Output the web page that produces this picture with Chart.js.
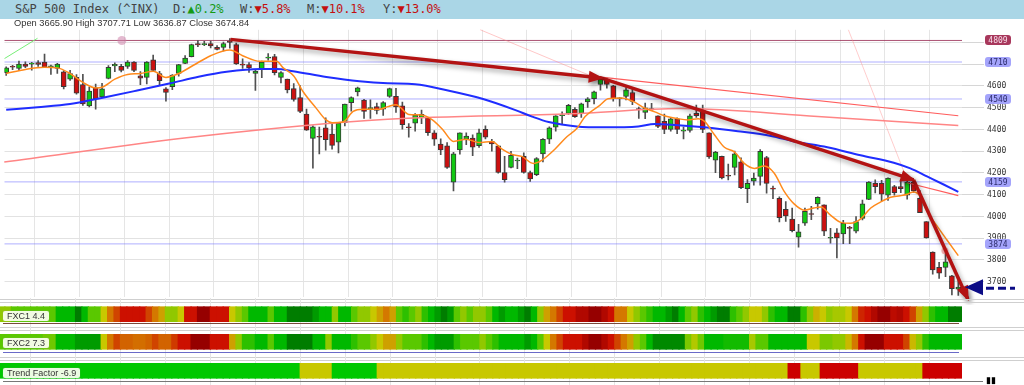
<!DOCTYPE html>
<html><head><meta charset="utf-8">
<script src="https://cdn.jsdelivr.net/npm/chart.js@4.4.1/dist/chart.umd.min.js"></script>
<style>
html,body{margin:0;padding:0;background:#fff;width:1024px;height:385px;overflow:hidden;position:relative;font-family:"Liberation Sans",Arial,sans-serif}
#hdr{position:absolute;left:0;top:0;width:1024px;height:19px;background:#aad6e6}
.h{position:absolute;top:2px;line-height:14px;font-size:12px;font-family:"DejaVu Sans Mono",monospace;color:#444;white-space:pre}
.up{color:#159a15;font-weight:normal}.dn{color:#c41010;font-weight:normal}
#ohlc{position:absolute;left:14px;top:18px;font-size:9.3px;line-height:11px;color:#333;white-space:pre}
canvas{position:absolute;left:0}
.sep{position:absolute;left:0;width:1024px;height:1px;background:#cfcfcf}
.osc{position:absolute;left:3px;height:1px}
.lbl{position:absolute;left:3px;height:10px;line-height:10px;font-size:9px;color:#333;background:rgba(255,255,245,0.92);border-radius:2px;box-shadow:0 0 1px #999;padding:0 4px;white-space:pre}
</style></head>
<body>
<div id="hdr">
<span class="h" style="left:15px">S&amp;P 500 Index (^INX)</span>
<span class="h" style="left:173px">D:<b class="up">▲0.2%</b></span>
<span class="h" style="left:240px">W:<b class="dn">▼5.8%</b></span>
<span class="h" style="left:307px">M:<b class="dn">▼10.1%</b></span>
<span class="h" style="left:383px">Y:<b class="dn">▼13.0%</b></span>
</div>
<canvas id="pc" width="1024" height="283" style="top:22px"></canvas>
<div class="sep" style="top:299px"></div><div class="sep" style="top:302px"></div>
<div class="sep" style="top:327px"></div><div class="sep" style="top:330px"></div>
<div class="sep" style="top:357px"></div><div class="sep" style="top:360px"></div>
<canvas id="b1" width="962" height="29" style="top:298px"></canvas>
<canvas id="b2" width="962" height="29" style="top:327px"></canvas>
<canvas id="b3" width="962" height="29" style="top:356px"></canvas>
<div class="osc" style="top:323px;width:956px;background:#7a4a3a"></div>
<div class="osc" style="top:352px;width:956px;background:#6a6ac8"></div>
<div class="osc" style="top:381px;width:980px;background:#777"></div>
<div class="lbl" style="top:311px">FXC1 4.4</div>
<div class="lbl" style="top:338px">FXC2 7.3</div>
<div class="lbl" style="top:368px">Trend Factor -6.9</div>
<div style="position:absolute;left:986px;top:375px;font-size:9px;line-height:10px;color:#000">▮▮</div>
<div id="ohlc">Open 3665.90 High 3707.71 Low 3636.87 Close 3674.84</div>
<script>
// ---- candle data (S&P 500, daily) ----
const open = [4661,4689,4681,4701,4700,4707,4710,4688,4680,4665, 4631,4639,4606,4508,4591,4550,4634,4692,4690,4690,
 4710,4646,4639,4720,4657,4587,4597,4657,4704,4735, 4795,4790,4795,4777,4777,4806,4790,4699,4698,4657,
 4679,4728,4735,4639,4631,4588,4547,4471,4359,4366, 4408,4379,4342,4431,4523,4572,4535,4496,4505,4493,
 4552,4552,4508,4412,4429,4454,4454,4385,4333,4325, 4158,4306,4355,4360,4325,4400,4345,4325,4202,4226,
 4255,4276,4202,4192,4288,4355,4410,4463,4474,4493, 4474,4526,4541,4607,4630,4600,4541,4552,4570,4495,
 4478,4496,4463,4437,4400,4449,4392,4395,4474,4489, 4385,4259,4276,4187,4226,4251,4128,4162,4184,4271,
 4128,4083,4033,3988,3905,3969,4013,4058,4054,3900, 3925,3920,3947,3932,3991,4078,4152,4152,4098,4137,
 4137,4098,4158,4083,3976,3836,3766,3766,3727,3666];
const high = [4688,4695,4714,4711,4708,4717,4746,4696,4704,4670, 4672,4652,4653,4595,4608,4612,4694,4706,4699,4716,
 4712,4666,4712,4742,4667,4592,4652,4699,4740,4792, 4808,4805,4806,4786,4801,4818,4797,4725,4707,4672,
 4714,4749,4745,4666,4632,4611,4602,4494,4417,4411, 4453,4429,4432,4517,4550,4595,4539,4536,4521,4528,
 4590,4589,4526,4427,4473,4489,4456,4395,4357,4340, 4295,4385,4385,4375,4402,4417,4355,4327,4277,4299,
 4268,4292,4209,4271,4358,4412,4464,4481,4516,4500, 4521,4546,4576,4637,4637,4603,4546,4593,4593,4503,
 4521,4520,4463,4471,4453,4453,4411,4471,4512,4512, 4385,4300,4278,4241,4301,4269,4170,4200,4308,4276,
 4140,4090,4068,4039,3964,4039,4047,4090,4054,3945, 3944,3982,3955,3999,4075,4160,4169,4166,4178,4143,
 4168,4165,4164,4119,3976,3838,3789,3837,3729,3708];
const low = [4648,4675,4670,4684,4672,4690,4684,4653,4657,4586, 4625,4562,4511,4504,4493,4546,4632,4666,4664,4680,
 4666,4606,4609,4665,4601,4530,4583,4645,4702,4733, 4780,4785,4775,4765,4761,4774,4699,4681,4662,4579,
 4638,4718,4651,4614,4568,4530,4477,4395,4222,4287, 4305,4309,4292,4416,4484,4554,4451,4451,4471,4464,
 4547,4478,4401,4364,4392,4426,4372,4327,4284,4221, 4118,4286,4330,4280,4317,4356,4300,4199,4158,4223,
 4220,4199,4161,4187,4251,4335,4392,4424,4469,4455, 4455,4501,4517,4581,4590,4530,4507,4536,4514,4451,
 4450,4486,4408,4381,4392,4381,4357,4388,4455,4385, 4267,4201,4173,4168,4191,4128,4063,4144,4144,4107,
 4082,3975,3977,3929,3859,3959,3985,4034,3912,3877, 3810,3875,3875,3925,3984,4077,4108,4073,4074,4098,
 4109,4080,4111,4017,3900,3735,3715,3723,3639,3637];
const close = [4683,4686,4701,4690,4702,4699,4686,4691,4701,4597, 4657,4567,4517,4576,4542,4587,4686,4699,4671,4710,
 4671,4636,4710,4671,4624,4570,4650,4698,4728,4790, 4788,4794,4784,4768,4795,4800,4701,4696,4683,4668,
 4710,4731,4661,4661,4582,4538,4483,4397,4412,4364, 4353,4327,4428,4517,4547,4591,4483,4499,4487,4523,
 4588,4503,4422,4408,4466,4469,4385,4355,4306,4226, 4288,4385,4370,4318,4385,4365,4333,4202,4169,4281,
 4259,4202,4173,4266,4355,4407,4463,4464,4511,4459, 4518,4541,4573,4632,4607,4541,4544,4582,4529,4491,
 4499,4490,4414,4400,4449,4400,4392,4463,4463,4400, 4274,4296,4177,4185,4288,4132,4152,4177,4300,4152,
 4126,3994,4003,3935,3929,4024,4009,4088,3932,3902, 3902,3969,3945,3976,4058,4158,4137,4103,4177,4110,
 4128,4158,4118,4018,3902,3754,3739,3791,3668,3675];

// ---- overlay lines: [candle index, value] ----
const maFast = [[0,4657],[3,4676],[6,4686],[8,4683],[10,4657],[12,4616],[14,4591],[15,4594],[17,4631],[19,4653],[21,4657],[23,4668],[25,4639],[27,4657],[29.3,4695],[32,4739],[35,4765],[37,4739],[39.7,4713],[42.3,4713],[43.4,4682],[45,4646],[46.5,4572],[48.5,4498],[50,4445],[51,4431],[52.7,4434],[54.3,4483],[55.8,4493],[58.4,4493],[59.7,4505],[61,4514],[63,4469],[65,4466],[66.7,4444],[68.3,4400],[70,4345],[72,4355],[74,4340],[76,4345],[77.6,4310],[79.2,4285],[80.7,4276],[82.5,4244],[83.8,4258],[85.9,4310],[87.7,4365],[89.3,4404],[90.6,4459],[92.9,4511],[94.2,4541],[96.3,4545],[98.1,4529],[99.9,4499],[101.5,4481],[103,4463],[105.2,4449],[106.7,4444],[108.3,4449],[109.3,4437],[110.8,4377],[112.4,4318],[114,4296],[115.5,4244],[117.1,4221],[118.6,4232],[120.2,4199],[121.7,4118],[123.3,4058],[124.9,4029],[126.4,4039],[127.5,4043],[129,4006],[130.6,3973],[132.1,3969],[133.7,3988],[135.3,4039],[136.8,4066],[138.4,4088],[139.9,4095],[141,4102],[142,4113],[143,4095],[144.1,4024],[145.6,3959],[147.2,3893],[149,3820]];
const maMid = [[0,4490],[4.9,4502],[10,4517],[15.3,4547],[20.5,4579],[25.7,4612],[30.1,4642],[34.5,4665],[39.7,4678],[42.3,4678],[44.9,4668],[50.1,4641],[55.3,4621],[59.7,4612],[64,4608],[69.3,4578],[74.5,4541],[79.7,4489],[82.3,4459],[84.9,4434],[89.3,4414],[93.7,4410],[98.9,4414],[101.5,4425],[104.1,4422],[109.3,4410],[114.5,4392],[119.7,4370],[123.3,4345],[128.5,4318],[133.7,4281],[138.9,4247],[141.5,4221],[144.1,4184],[146.7,4147],[149,4113]];
const maSlow = [[-0.3,4250],[30,4368],[59.7,4447],[88.5,4472],[105.6,4496],[127,4460],[149,4418]];
const levels = [4809, 4710, 4540, 4159, 3874];
const arrow1 = [[35.1,4814],[93.2,4636]];
const arrow2 = [[93.2,4636],[142,4168]];
const arrow3 = [[142,4168],[150.5,3620]];
const trendRed = [[91.6,4645],[149,4463]];
const trendRed2 = [[141,4155],[149,4096]];
const trendFaint1 = [[74.2,4858],[91.6,4645]];
const trendFaint2 = [[131.8,4858],[141,4168]];
const trendGreen = [[-0.26,4726],[4.9,4819]];
const markersA = [[18.1,4809]];
const markersB = [[146.9,3843]];
const lastMarker = 3675;

// ---- indicator panels ----
const fxc1 = [0.5,0.5,1,1,1,1,1,1,1,2, 2,2,3,2,1,1,0,-1,-1.5,-2, -2,-2,-2,-1.5,-1,-0.5,0.5,0.5,0,-2,
 -2,-3,-3,-2,-2,-2,0,0.5,1,2, 2,2,1,2,2,3,3,3,3,2.5, 2,2,0.5,2,2,1,0.5,0.5,0,-0.5,
 -1,-0.5,1,1.5,1,0.5,1.5,2,2.5,3, 2.5,1,0.5,1,0.5,0.5,1,2,2.5,2, 2,2.5,3,2,0.5,-0.5,-1,-1.5,-2,-2,
 -2.5,-2.5,-3,-3,-2.5,-2,-1,-1,0,0.5, 1,1.5,2,2,2.5,3,2,1,0.5,1.5, 2,2.5,3,3,1.5,1,0.5,0,0,0.5,
 1.5,2,2,3,3,1.5,0.5,-0.3,0,0.5, 0.3,0.3,0,-1,-1.8,-2,-2.5,-3,-3,-2.3, -2.5,-2,-1.5,-0.5,0.5,1.5,2,2,3,3];
const fxc2 = [1,1,1,1,1,1,1,0.8,0.8,2, 2,2,2.5,2.5,2.5,2.5,0,-1,-1.5,-1.2, -1.2,-1.1,-1.1,-1.2,-1.5,-1.2,-1.2,-1.6,-2,-2,
 -3,-3,-3,-2,-2,-2,-0.5,0.5,1.5,1.5, 2,2,1,2,2,3,3,3,3,2, 2,0.5,2,2,2,1.5,1,1,0.5,0,
 -0.5,-0.5,0.5,1,1,1,1.5,2,2.5,2.5, 2.5,1.5,1,1,1,0.5,1,1.5,2,2, 2,2,2.5,2,1,0,-1,-1.5,-2,-2,
 -2,-2.5,-3,-3,-2.5,-2,-1.5,-1,-0.5,0.5, 1,2,2.8,2.8,2.8,2.8,2.8,0.7,0.2,0.8, 2,2,2,1.8,1.8,1.8,1.8,0.3,1,1,
 2,2,2,2,2,2,0,0,0.7,0.7, 0.5,0.5,-0.2,-1,-2,-3,-3,-3,-2,-2, -2,-1.5,-0.2,0.5,1.5,2,2,2,2,2];
const trendFactor = [1,1,1,1,1,1,1,1,1,1, 1,1,1,1,1,1,1,1,1,1, 1,1,1,1,1,1,1,1,1,1,
 1,1,1,1,1,1,1,1,1,1, 1,1,1,1,1,1,1,0,0,0, 0,0,1,1,1,1,1,1,1,0,
 0,0,0,0,0,0,0,0,0,0, 0,0,0,0,0,0,0,0,0,0, 0,0,0,0,0,0,0,0,0,0,
 0,0,0,0,0,0,0,0,0,0, 0,0,0,0,0,0,0,0,0,0, 0,0,0,0,0,0,0,0,0,0,
 0,0,0,-1,-1,0,0,0,-1,-1, -1,-1,-1,-1,0,0,0,0,0,0, 0,0,0,0,-1,-1,-1,-1,-1,-1];

const gridIdx = [1,8,15,22,29,36,43,50,57,64,71,78,85,92,99,106,113,120,127,134,141,148];
const yTicks = [3700,3800,3900,4000,4100,4200,4300,4400,4500,4600,4700,4800];

const X_MIN = -0.265, X_MAX = 149.58;
const pts = a => a.map(p => ({x:p[0], y:p[1]}));

const candleIdx = open.map((_, i) => i);
const bodyColors = candleIdx.map(i => close[i] >= open[i] ? '#12c812' : '#cc1010');

function lineDs(data, color, width, order, extra) {
  return Object.assign({type:'line', data:pts(data), borderColor:color, borderWidth:width, pointRadius:0,
    fill:false, order:order, clip:false, cubicInterpolationMode:'monotone'}, extra||{});
}

const datasets = [];
levels.forEach((lv, i) => datasets.push(lineDs([[X_MIN, lv],[X_MAX, lv]], i === 0 ? 'rgba(150,40,80,0.8)' : 'rgba(110,110,255,0.55)', 1, 30)));
datasets.push(lineDs(trendGreen, '#77ee77', 1, 8));
datasets.push(lineDs(trendFaint1, 'rgba(255,130,130,0.45)', 1, 8));
datasets.push(lineDs(trendFaint2, 'rgba(255,130,130,0.4)', 1, 8));
datasets.push(lineDs(maSlow, '#ff8585', 1.5, 8));
datasets.push(lineDs(trendRed, '#ff5c5c', 1.2, 8));
datasets.push(lineDs(trendRed2, '#ff5c5c', 1.2, 8));
datasets.push({type:'bar', data:candleIdx.map(i => ({x:i, y:[low[i], high[i]]})), backgroundColor:'#505050',
  barThickness:1, grouped:false, order:21});
datasets.push({type:'bar', data:candleIdx.map(i => ({x:i, y:[open[i], close[i]]})), backgroundColor:bodyColors,
  borderColor:'#383838', borderWidth:1, borderSkipped:false, barThickness:5, minBarLength:1, grouped:false, order:20});
datasets.push(lineDs(maMid, '#1f2dff', 2, 6));
datasets.push(lineDs(maFast, '#ff8a1c', 1.5, 5));
datasets.push(lineDs(markersA, 'rgba(0,0,0,0)', 0, 4, {showLine:false, pointRadius:4.5, pointBackgroundColor:'rgba(205,130,170,0.55)', pointBorderWidth:0}));
datasets.push(lineDs(markersB, 'rgba(0,0,0,0)', 0, 4, {showLine:false, pointRadius:3.5, pointBackgroundColor:'rgba(245,150,150,0.7)', pointBorderWidth:0}));
[arrow1, arrow2, arrow3].forEach(a => datasets.push(lineDs(a, '#b31313', 3.5, 1, {shadow:true, cubicInterpolationMode:'default', tension:0})));

const arrowPlugin = {
  id:'arrows',
  beforeDatasetDraw(chart, args) {
    const ds = chart.data.datasets[args.index];
    if (ds.shadow) { const c = chart.ctx; c.save(); c.shadowColor = 'rgba(0,0,0,0.35)'; c.shadowBlur = 5; c.shadowOffsetX = 2; c.shadowOffsetY = 3; }
  },
  afterDatasetDraw(chart, args) {
    const ds = chart.data.datasets[args.index];
    if (!ds.shadow) return;
    const c = chart.ctx, p = args.meta.data;
    const a = p[p.length - 2], b = p[p.length - 1];
    const ang = Math.atan2(b.y - a.y, b.x - a.x), L = 13, W = 6;
    c.fillStyle = ds.borderColor;
    c.beginPath();
    c.moveTo(b.x + 2 * Math.cos(ang), b.y + 2 * Math.sin(ang));
    c.lineTo(b.x - L * Math.cos(ang) + W * Math.sin(ang), b.y - L * Math.sin(ang) - W * Math.cos(ang));
    c.lineTo(b.x - L * Math.cos(ang) - W * Math.sin(ang), b.y - L * Math.sin(ang) + W * Math.cos(ang));
    c.closePath(); c.fill();
    c.restore();
  }
};

const boxPlugin = {
  id:'boxes',
  afterDraw(chart) {
    const {ctx, scales:{y}, chartArea} = chart;
    ctx.save();
    levels.forEach((lv, i) => {
      const py = Math.round(y.getPixelForValue(lv));
      const x0 = chartArea.right + 23, w = 26, h = 10;
      ctx.fillStyle = i === 0 ? '#a8385c' : '#a4a4fb';
      ctx.beginPath();
      if (ctx.roundRect) ctx.roundRect(x0, py - h / 2, w, h, 3); else ctx.rect(x0, py - h / 2, w, h);
      ctx.fill();
      ctx.fillStyle = i === 0 ? '#f6dce8' : '#2c2c6c';
      ctx.font = '8px "DejaVu Sans Mono", monospace';
      ctx.textAlign = 'center'; ctx.textBaseline = 'middle';
      ctx.fillText(String(lv), x0 + w / 2, py + 0.5);
    });
    // last-price marker arrow
    const my = y.getPixelForValue(lastMarker);
    const tx = chartArea.right + 3;
    ctx.fillStyle = '#0c0c86';
    ctx.beginPath();
    ctx.moveTo(tx, my); ctx.lineTo(tx + 18, my - 8); ctx.lineTo(tx + 18, my + 8); ctx.closePath(); ctx.fill();
    ctx.strokeStyle = '#0c0c86'; ctx.lineWidth = 3; ctx.setLineDash([8, 4]);
    ctx.beginPath(); ctx.moveTo(tx + 21, my + 1); ctx.lineTo(tx + 50, my + 1); ctx.stroke();
    ctx.restore();
  }
};

const xScale = (extra) => Object.assign({type:'linear', min:X_MIN, max:X_MAX, offset:false,
  afterBuildTicks: s => { s.ticks = gridIdx.map(v => ({value:v})); },
  afterFit: s => { s.height = 0; },
  ticks:{display:false}, border:{display:false}, grid:{color:'#e5e5e5', drawTicks:false}}, extra || {});

new Chart(document.getElementById('pc'), {
  type:'bar',
  data:{datasets},
  options:{
    responsive:false, animation:false, devicePixelRatio:1,
    layout:{padding:{top:0, bottom:7, left:0, right:0}},
    plugins:{legend:{display:false}, tooltip:{enabled:false}},
    scales:{
      x: xScale(),
      y: {position:'right', min:3629, max:4858,
        afterBuildTicks: s => { s.ticks = yTicks.map(v => ({value:v})); },
        afterFit: s => { s.width = 62; },
        border:{display:false},
        grid:{color:'#e2e2e2', tickLength:22, tickColor:'#d6d6d6'},
        ticks:{font:{family:'DejaVu Sans Mono', size:8}, color:'#333', padding:3, callback: v => String(v)}}
    }
  },
  plugins:[arrowPlugin, boxPlugin]
});

function lerp(a, b, t) { return Math.round(a + (b - a) * t); }
const fxcStops = [[-3,[150,0,0]],[-2,[204,16,0]],[-1,[212,120,0]],[0,[200,200,0]],[1,[90,200,0]],[2,[0,184,0]],[3,[0,125,0]]];
function fxcColor(s) {
  s = Math.max(-3, Math.min(3, s));
  for (let i = 0; i < fxcStops.length - 1; i++) {
    const [a, ca] = fxcStops[i], [b, cb] = fxcStops[i + 1];
    if (s <= b) { const t = (s - a) / (b - a); return `rgb(${lerp(ca[0],cb[0],t)},${lerp(ca[1],cb[1],t)},${lerp(ca[2],cb[2],t)})`; }
  }
  return 'rgb(0,125,0)';
}
const tfColor = v => v > 0 ? '#00c800' : (v < 0 ? '#cc0000' : '#c8c800');

function bandChart(id, values, colorFn, yMin, yMax) {
  new Chart(document.getElementById(id), {
    type:'bar',
    data:{datasets:[{data:values.map((v, i) => ({x:i, y:[0, 1]})), backgroundColor:values.map(colorFn),
      barThickness:7, grouped:false, borderWidth:0}]},
    options:{responsive:false, animation:false, devicePixelRatio:1, layout:{padding:0},
      plugins:{legend:{display:false}, tooltip:{enabled:false}},
      scales:{x: xScale(), y:{display:false, min:yMin, max:yMax}}}
  });
}
bandChart('b1', fxc1, fxcColor, -0.353, 1.58);
bandChart('b2', fxc2, fxcColor, -0.447, 1.487);
bandChart('b3', trendFactor, tfColor, -0.447, 1.487);
</script>
</body></html>
